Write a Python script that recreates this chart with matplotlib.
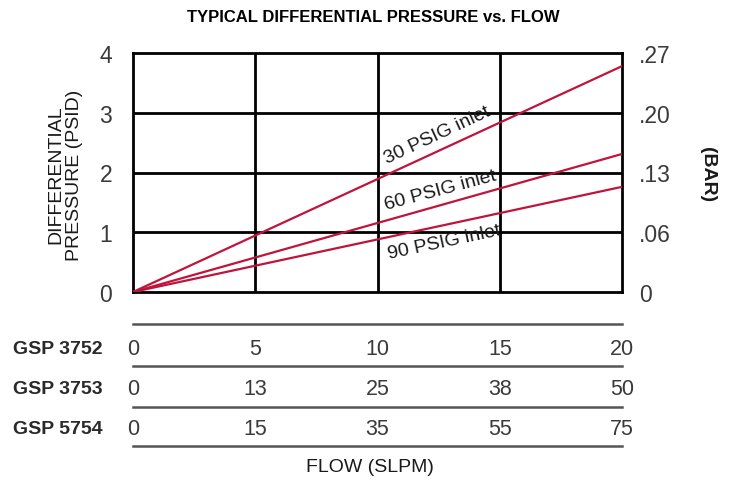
import matplotlib.pyplot as plt

# flow axis (GSP 3752 scale, SLPM)
flow = [0, 20]
# differential pressure (PSID) for each inlet pressure
psid_30 = [0, 3.78]
psid_60 = [0, 2.31]
psid_90 = [0, 1.76]

psid_ticks = [0, 1, 2, 3, 4]
bar_labels = ["0", ".06", ".13", ".20", ".27"]

flow_ticks = [0, 5, 10, 15, 20]
models = ["GSP 3752", "GSP 3753", "GSP 5754"]
model_flows = [
    ["0", "5", "10", "15", "20"],
    ["0", "13", "25", "38", "50"],
    ["0", "15", "35", "55", "75"],
]

RED = "#c0143c"
NUM = "#3a3a3a"
LAB = "#1a1a1a"
plt.rcParams["font.family"] = ["Liberation Sans", "DejaVu Sans"]

fig = plt.figure(figsize=(7.3, 4.85), dpi=100)
W, H = 730, 485


def ax_rect(x0, y0, x1, y1):
    return [x0 / W, 1 - y1 / H, (x1 - x0) / W, (y1 - y0) / H]


ax = fig.add_axes(ax_rect(133, 54, 622, 293))
ax.set_xlim(0, 20)
ax.set_ylim(0, 4)

for x in flow_ticks[1:-1]:
    ax.axvline(x, color="black", lw=2, zorder=1)
for y in psid_ticks[1:-1]:
    ax.axhline(y, color="black", lw=2, zorder=1)
for s in ax.spines.values():
    s.set_linewidth(2)

ax.plot(flow, psid_30, color=RED, lw=1.6, zorder=3)
ax.plot(flow, psid_60, color=RED, lw=1.6, zorder=3)
ax.plot(flow, psid_90, color=RED, lw=1.6, zorder=3)

lbl = dict(fontsize=14, color=LAB, ha="center", va="center", zorder=4)
ax.text(12.43, 2.64, "30 PSIG inlet", rotation=25, **lbl)
ax.text(12.56, 1.71, "60 PSIG inlet", rotation=15, **lbl)
ax.text(12.72, 0.84, "90 PSIG inlet", rotation=12, **lbl)

ax.set_xticks([])
ax.set_yticks(psid_ticks)
ax.set_yticklabels([str(t) for t in psid_ticks], fontsize=16.5, color=NUM)
ax.tick_params(axis="y", length=0, pad=15)
fig.text(65 / W, 1 - 175 / H, "DIFFERENTIAL\nPRESSURE (PSID)", rotation=90,
         fontsize=14, color=LAB, ha="center", va="center", linespacing=1.1)

ax2 = ax.twinx()
ax2.set_ylim(0, 4)
ax2.set_yticks(psid_ticks)
ax2.set_yticklabels(bar_labels, fontsize=16.5, color=NUM)
ax2.tick_params(axis="y", length=0, pad=12)
for s in ax2.spines.values():
    s.set_visible(False)
fig.text(708 / W, 1 - 175 / H, "(BAR)", rotation=-90, fontsize=14,
         fontweight="bold", color=LAB, ha="center", va="center")

fig.text(373 / W, 1 - 18 / H, "TYPICAL DIFFERENTIAL PRESSURE vs. FLOW",
         fontsize=12, fontweight="bold", color="black", ha="center",
         va="center")

# flow table under the chart
tab = fig.add_axes(ax_rect(133, 320, 622, 455))
tab.set_xlim(0, 20)
tab.set_ylim(455, 320)
tab.axis("off")
for y in [325, 367, 408, 447]:
    tab.plot([0, 20], [y, y], color="#555555", lw=1.8, clip_on=False)
row_y = [349.5, 389.5, 430]
for name, vals, y in zip(models, model_flows, row_y):
    fig.text(13 / W, 1 - y / H, name, fontsize=14, color="#2a2a2a",
             ha="left", va="center", fontweight="semibold")
    for x, v in zip(flow_ticks, vals):
        tab.text(x, y, v, fontsize=15.5, color=NUM, ha="center",
                 va="center")

fig.text(370 / W, 1 - 468 / H, "FLOW (SLPM)", fontsize=14, color=LAB,
         ha="center", va="center")

fig.savefig("out.png", dpi=100)
